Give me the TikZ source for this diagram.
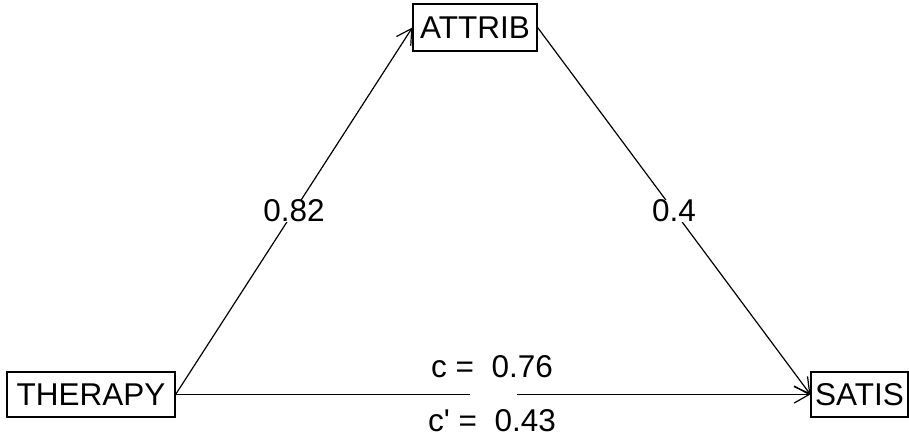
\documentclass[tikz,border=0pt]{standalone}
\usepackage{fontspec}
\setmainfont{Liberation Sans}
\usetikzlibrary{arrows.meta}
\begin{document}
\begin{tikzpicture}[x=1pt,y=-1pt,
  every node/.style={font=\fontsize{31.5}{36}\selectfont},
  var/.style={draw,line width=1.2pt,inner sep=0pt,minimum height=45},
  conn/.style={line width=1.2pt},
  arr/.style={conn,-{Straight Barb[length=15pt,width=17pt,line width=1.2pt]}},
  lbl/.style={fill=white,inner sep=0pt}]
\useasboundingbox (0,0) rectangle (909,440);
\node[var,minimum width=124,minimum height=47] (attrib) at (475,27.5) {ATTRIB};
\node[var,minimum width=168] (therapy) at (91,394.5) {THERAPY};
\node[var,minimum width=97] (satis) at (859.5,394.5) {SATIS};
\draw[arr] (therapy.east) -- node[midway,lbl] (a) {0.82} (attrib.west);
\draw[arr] (attrib.east) -- node[midway,lbl] (b) {0.4} (satis.west);
\coordinate (g1) at (470,394.5);
\coordinate (g2) at (517,394.5);
\draw[conn] (therapy.east) -- (g1);
\draw[arr] (g2) -- (satis.west);
\node (c) at (492,367) {c =\ \ 0.76};
\node (cp) at (492,421) {c\textquotesingle\ =\ \ 0.43};
\end{tikzpicture}
\end{document}
